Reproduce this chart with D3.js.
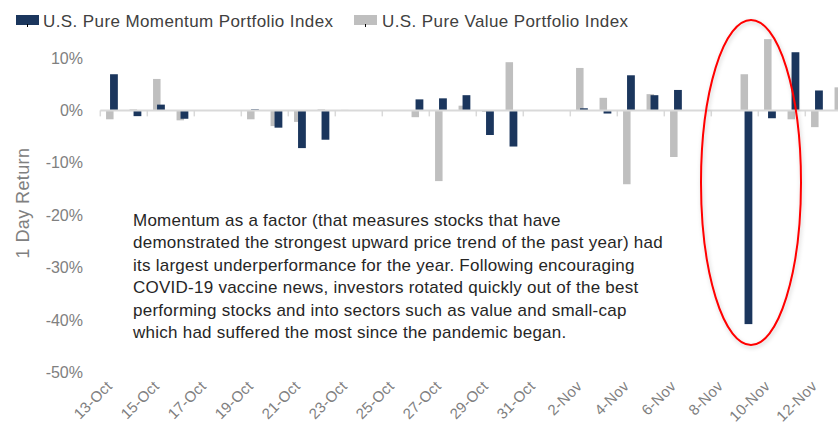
<!DOCTYPE html>
<html lang="en">
<head>
    <meta charset="UTF-8">
    <title>Momentum vs Value daily returns</title>
    <script src="https://d3js.org/d3.v7.min.js"></script>
    <style>
        body{ margin:0; background:#fff; font-family: "Liberation Sans", Arial, sans-serif; }
        svg{ display:block; }
    </style>
</head>
<body>
<svg width="838" height="426"></svg>
<script>
    // daily returns, %
    const days = ["13-Oct","14-Oct","15-Oct","16-Oct","17-Oct","18-Oct","19-Oct","20-Oct","21-Oct","22-Oct",
        "23-Oct","24-Oct","25-Oct","26-Oct","27-Oct","28-Oct","29-Oct","30-Oct","31-Oct","1-Nov",
        "2-Nov","3-Nov","4-Nov","5-Nov","6-Nov","7-Nov","8-Nov","9-Nov","10-Nov","11-Nov","12-Nov","13-Nov"];
    const momentum = [6.9,-1.1,1.1,-1.6,0,0,0.2,-3.3,-7.2,-5.6,
        0,0,0,2.1,2.3,2.9,-4.7,-6.9,0,0,
        0.4,-0.6,6.7,2.9,3.9,0,0,-40.8,-1.5,11.1,3.8,0];
    const value = [-1.7,0.2,6.0,-1.9,0,0,-1.7,-3.0,-2.2,0.2,
        0.1,0,0,-1.3,-13.5,0.9,-0.3,9.2,0,0,
        8.1,2.4,-14.1,3.1,-8.9,0,0,6.9,13.6,-1.7,-3.2,4.4];
    const yTicks = [10,0,-10,-20,-30,-40,-50];
    const seriesNames = ["U.S. Pure Momentum Portfolio Index","U.S. Pure Value Portfolio Index"];
    const note = ["Momentum as a factor (that measures stocks that have",
        "demonstrated the strongest upward price trend of the past year) had",
        "its largest underperformance for the year. Following encouraging",
        "COVID-19 vaccine news, investors rotated quickly out of the best",
        "performing stocks and into sectors such as value and small-cap",
        "which had suffered the most since the pandemic began."];

    const navy = "#1b365d", grey = "#bfbfbf";
    let svg = d3.select('svg');

    const x = d3.scaleBand().domain(days).range([100.3, 100.3 + 23.5*days.length]);
    const y = d3.scaleLinear().domain([-50,10]).range([372.3, 58]);

    // bars: value first, momentum drawn on top
    svg.append('g').selectAll('rect')
        .data(value).enter().append('rect')
        .attr('x',(d,i)=>x(days[i]) + x.bandwidth()/2 - 6)
        .attr('width',7.5)
        .attr('y',d=>y(Math.max(0,d)))
        .attr('height',d=>Math.abs(y(d)-y(0)))
        .attr('fill',grey);
    svg.append('g').selectAll('rect')
        .data(momentum).enter().append('rect')
        .attr('x',(d,i)=>x(days[i]) + x.bandwidth()/2 - 2)
        .attr('width',7.8)
        .attr('y',d=>y(Math.max(0,d)))
        .attr('height',d=>Math.abs(y(d)-y(0)))
        .attr('fill',navy);

    // zero axis line + ticks every two days
    svg.append('line')
        .attr('x1',x.range()[0]).attr('x2',x.range()[1])
        .attr('y1',y(0)).attr('y2',y(0))
        .attr('stroke','#d9d9d9').attr('stroke-width',2);
    svg.append('g').selectAll('line')
        .data(days.filter((d,i)=>i%2===0)).enter().append('line')
        .attr('x1',d=>x(d)).attr('x2',d=>x(d))
        .attr('y1',y(0)).attr('y2',y(0)+6)
        .attr('stroke','#d9d9d9').attr('stroke-width',1.5);

    // x labels
    svg.append('g').selectAll('text')
        .data(days.filter((d,i)=>i%2===0)).enter().append('text')
        .attr('transform',d=>`translate(${x(d)+x.bandwidth()/2+1},387) rotate(-45)`)
        .attr('text-anchor','end')
        .attr('font-size',15).attr('letter-spacing',0.3).attr('fill','#808080')
        .text(d=>d);

    // y labels
    svg.append('g').selectAll('text')
        .data(yTicks).enter().append('text')
        .attr('x',83).attr('y',d=>y(d)).attr('dy','0.35em')
        .attr('text-anchor','end')
        .attr('font-size',16).attr('fill','#808080')
        .text(d=>d+'%');

    svg.append('text')
        .attr('transform','translate(29,203) rotate(-90)')
        .attr('text-anchor','middle')
        .attr('font-size',18).attr('letter-spacing',0.4).attr('fill','#808080')
        .text('1 Day Return');

    // legend
    const leg = svg.append('g');
    [[16,43,navy],[354,382,grey]].forEach((p,i)=>{
        leg.append('rect').attr('x',p[0]).attr('y',15).attr('width',23).attr('height',10).attr('fill',p[2]);
        leg.append('line').attr('x1',p[0]+11.5).attr('x2',p[0]+11.5).attr('y1',24).attr('y2',27)
            .attr('stroke','#000').attr('stroke-width',1);
        leg.append('text').attr('x',p[1]).attr('y',27)
            .attr('font-size',17).attr('letter-spacing',0.4).attr('fill','#404040')
            .text(seriesNames[i]);
    });

    // annotation
    svg.append('text')
        .attr('font-size',17).attr('letter-spacing',0.25).attr('fill','#262626')
        .selectAll('tspan').data(note).enter().append('tspan')
        .attr('x',133).attr('y',(d,i)=>226 + i*22.4)
        .text(d=>d);

    // red ellipse with soft shadow
    const defs = svg.append('defs');
    const f = defs.append('filter').attr('id','sh').attr('x','-20%').attr('y','-20%').attr('width','140%').attr('height','140%');
    f.append('feDropShadow').attr('dx',1).attr('dy',2).attr('stdDeviation',2).attr('flood-color','#000').attr('flood-opacity',0.2);
    svg.append('ellipse')
        .attr('cx',751).attr('cy',182.5).attr('rx',50).attr('ry',162.5)
        .attr('fill','none').attr('stroke','#ff0000').attr('stroke-width',2)
        .attr('filter','url(#sh)');
</script>
</body>
</html>
